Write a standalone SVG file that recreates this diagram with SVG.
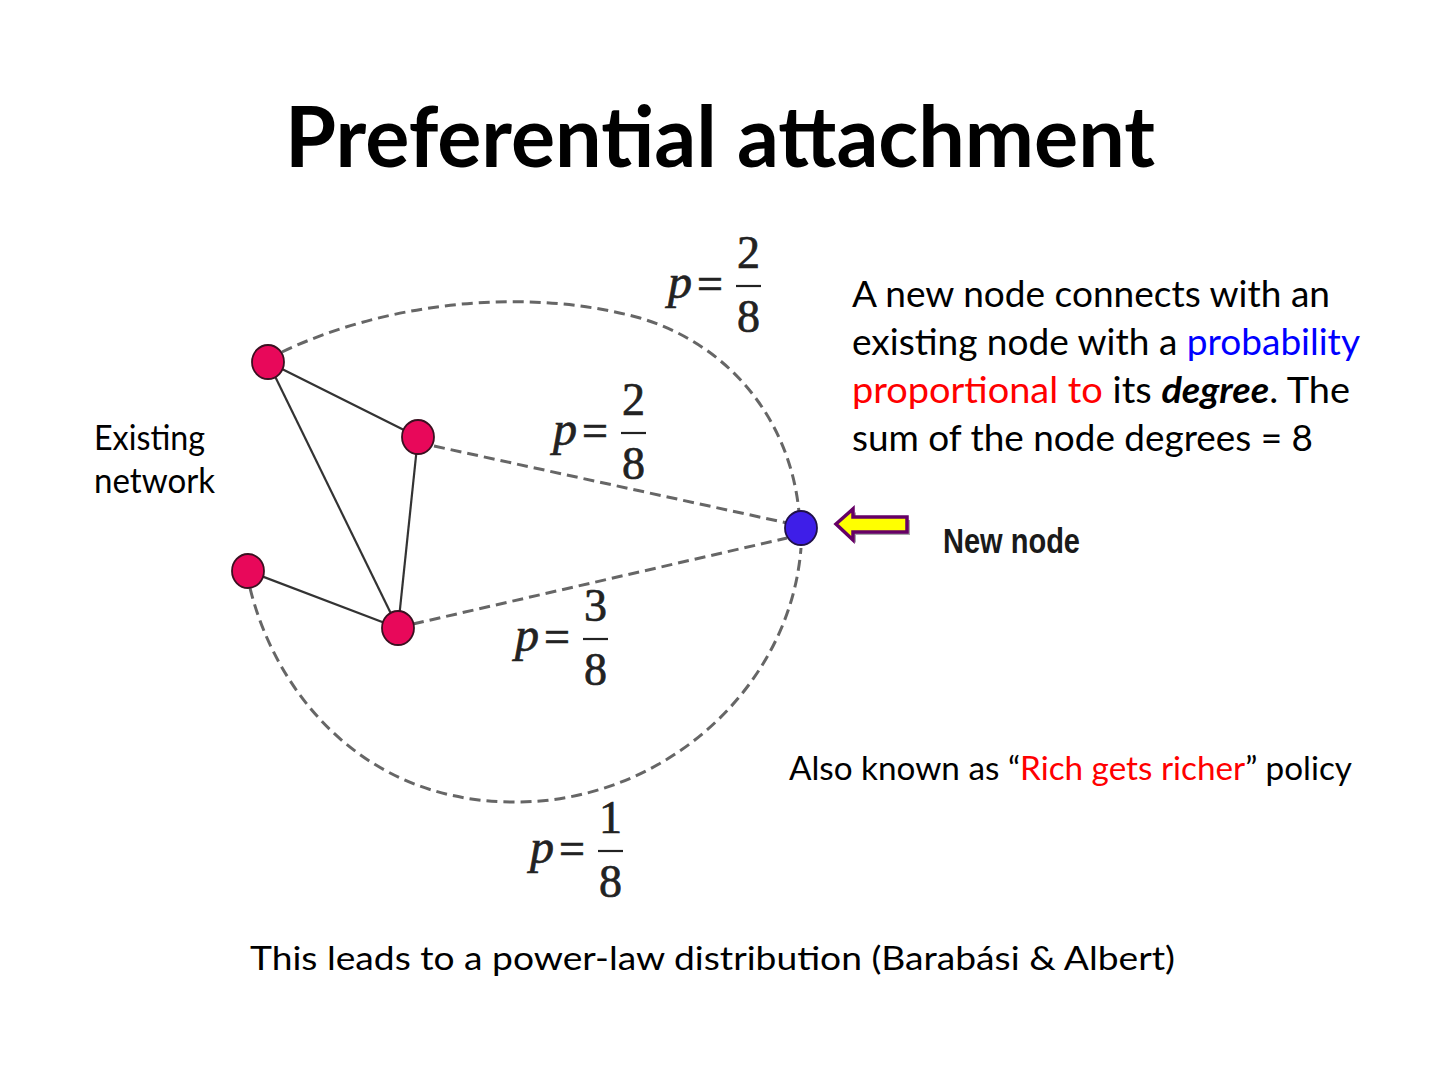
<svg xmlns="http://www.w3.org/2000/svg" width="1440" height="1080" viewBox="0 0 1440 1080">
<defs>
<style>
.txt{font-family:Lato,"Open Sans","Liberation Sans",sans-serif;fill:#000}
.title{font-family:Lato,"Open Sans","Liberation Sans",sans-serif;font-weight:bold;font-size:84px;fill:#000}
.math{font-family:"Liberation Serif","DejaVu Serif",serif;font-size:46px;fill:#222;stroke:#222;stroke-width:0.7}
.mi{font-style:italic;font-size:48px}
.edge{stroke:#333;stroke-width:2.2;fill:none}
.dash{stroke:#666;stroke-width:3;fill:none;stroke-dasharray:11 6}
.old{fill:#e8085a;stroke:#3a1020;stroke-width:1.8}
.new{fill:#3e1ee8;stroke:#20104a;stroke-width:1.8}
.bar{stroke:#222;stroke-width:2.2}
</style>
</defs>
<rect width="1440" height="1080" fill="#fff"/>
<text class="title" x="285" y="167" textLength="870" lengthAdjust="spacingAndGlyphs">Preferential attachment</text>

<g id="connectors">
<path class="dash" d="M 282 352 C 380 305, 520 285, 640 318 C 730 345, 790 420, 799 512"/>
<path class="dash" d="M 250 588 C 275 690, 360 800, 510 802 C 660 805, 790 690, 801 548"/>
<line class="dash" x1="434" y1="446" x2="787" y2="523"/>
<line class="dash" x1="413" y1="624" x2="787" y2="538"/>
<line class="edge" x1="268" y1="362" x2="418" y2="437"/>
<line class="edge" x1="268" y1="362" x2="398" y2="628"/>
<line class="edge" x1="418" y1="437" x2="398" y2="628"/>
<line class="edge" x1="248" y1="571" x2="398" y2="628"/>
</g>

<g id="node-a"><ellipse class="old" cx="268" cy="362" rx="16" ry="17"/></g>
<g id="node-b"><ellipse class="old" cx="418" cy="437" rx="16" ry="17"/></g>
<g id="node-c"><ellipse class="old" cx="248" cy="571" rx="16" ry="17"/></g>
<g id="node-d"><ellipse class="old" cx="398" cy="628" rx="16" ry="17"/></g>
<g id="node-new"><ellipse class="new" cx="801" cy="528" rx="16" ry="17"/></g>

<g id="arrow">
<polygon points="839,527 856,512 856,520 910,520 910,535 856,535 856,543" fill="#a8a8a8"/>
<polygon points="836,524 853,509 853,517 907,517 907,532 853,532 853,540" fill="#ffff00" stroke="#660066" stroke-width="3.5" stroke-linejoin="miter"/>
</g>

<g id="label-1" transform="translate(668,286)">
<text class="math mi" x="0" y="12">p</text>
<text class="math" x="29" y="13">=</text>
<line class="bar" x1="68" y1="0" x2="93" y2="0"/>
<text class="math" x="80.5" y="-18" text-anchor="middle">2</text>
<text class="math" x="80.5" y="46" text-anchor="middle">8</text>
</g>
<g id="label-2" transform="translate(553,433)">
<text class="math mi" x="0" y="12">p</text>
<text class="math" x="29" y="13">=</text>
<line class="bar" x1="68" y1="0" x2="93" y2="0"/>
<text class="math" x="80.5" y="-18" text-anchor="middle">2</text>
<text class="math" x="80.5" y="46" text-anchor="middle">8</text>
</g>
<g id="label-3" transform="translate(515,639)">
<text class="math mi" x="0" y="12">p</text>
<text class="math" x="29" y="13">=</text>
<line class="bar" x1="68" y1="0" x2="93" y2="0"/>
<text class="math" x="80.5" y="-18" text-anchor="middle">3</text>
<text class="math" x="80.5" y="46" text-anchor="middle">8</text>
</g>
<g id="label-4" transform="translate(530,851)">
<text class="math mi" x="0" y="12">p</text>
<text class="math" x="29" y="13">=</text>
<line class="bar" x1="68" y1="0" x2="93" y2="0"/>
<text class="math" x="80.5" y="-18" text-anchor="middle">1</text>
<text class="math" x="80.5" y="46" text-anchor="middle">8</text>
</g>

<g id="text-existing">
<text class="txt" x="94" y="450" font-size="34" textLength="111" lengthAdjust="spacingAndGlyphs">Existing</text>
<text class="txt" x="94" y="493" font-size="34" textLength="121" lengthAdjust="spacingAndGlyphs">network</text>
</g>

<g id="text-desc" font-size="36">
<text class="txt" x="852" y="307" textLength="478" lengthAdjust="spacingAndGlyphs">A new node connects with an</text>
<text class="txt" x="852" y="355" textLength="508" lengthAdjust="spacingAndGlyphs">existing node with a <tspan fill="#0000ff">probability</tspan></text>
<text class="txt" x="852" y="403" textLength="498" lengthAdjust="spacingAndGlyphs"><tspan fill="#ff0000">proportional to</tspan> its <tspan font-weight="bold" font-style="italic">degree</tspan>. The</text>
<text class="txt" x="852" y="451" textLength="461" lengthAdjust="spacingAndGlyphs">sum of the node degrees = 8</text>
</g>

<g id="text-newnode">
<text x="943" y="553" font-family="'Liberation Sans Narrow','Liberation Sans',Arial,sans-serif" font-weight="bold" font-size="35" fill="#1a1a1a" textLength="137" lengthAdjust="spacingAndGlyphs">New node</text>
</g>

<g id="text-rich">
<text class="txt" x="789" y="780" font-size="32" textLength="563" lengthAdjust="spacingAndGlyphs">Also known as “<tspan fill="#ff0000">Rich gets richer</tspan>” policy</text>
</g>

<g id="text-bottom">
<text class="txt" x="250" y="970" font-size="33" textLength="925" lengthAdjust="spacingAndGlyphs">This leads to a power-law distribution (Barabási &amp; Albert)</text>
</g>
</svg>
